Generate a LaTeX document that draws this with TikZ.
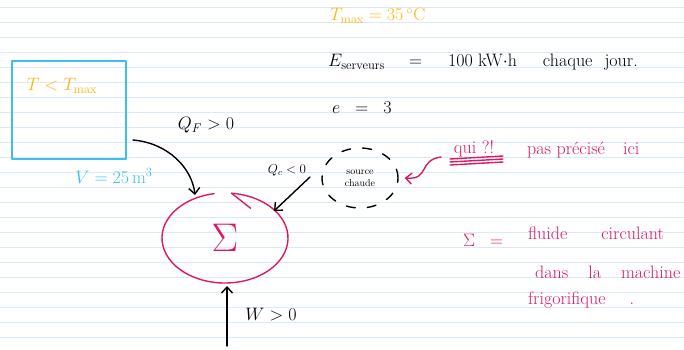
\RequirePackage{fix-cm}
\documentclass[tikz,border=0pt]{standalone}
\usetikzlibrary{arrows.meta,shapes.geometric}
\definecolor{rulecol}{RGB}{218,234,248}
\definecolor{skyb}{RGB}{62,190,240}
\definecolor{gold}{RGB}{250,182,20}
\definecolor{pinkink}{RGB}{220,25,100}
\tikzset{
  ink/.style={line width=1.4pt,line cap=round,line join=round},
  hand/.style={inner sep=0pt,font=\fontsize{18}{20}\selectfont},
  small hand/.style={inner sep=0pt,font=\fontsize{13}{15}\selectfont},
  barb/.style={-{Straight Barb[length=6pt,width=11pt]}},
}
\begin{document}
\begin{tikzpicture}[x=1pt,y=-1pt]
  \fill[white] (0,0) rectangle (684,349);
  \useasboundingbox (0,0) rectangle (684,349);
  \foreach \k in {0,...,22}
    \draw[rulecol,line width=1.5pt] (0,{7.5+15*\k}) -- (684,{7.5+15*\k});
  % the room
  \draw[skyb,ink] (12,61) rectangle (126,159);
  \node[hand,gold] (tin) at (62,86) {$T<T_{\max}$};
  \node[hand,skyb] (vol) at (114,176) {$V=25\,\mathrm{m}^3$};
  % the fluid
  \coordinate (sys) at (225,238);
  \draw[pinkink,ink] (sys) ++(100:63pt and 45pt)
    arc[start angle=100,end angle=444,x radius=63pt,y radius=45pt] coordinate (hook);
  \draw[pinkink,ink] (hook) -- ++(19,15);
  \node[pinkink,font=\fontsize{40}{40}\selectfont] (sigma) at (sys) {$\Sigma$};
  % exchanges
  \coordinate (qf0) at (133,140);
  \coordinate (qf1) at (195,195);
  \draw[ink,barb] (qf0) .. controls (168,143) and (192,168) .. (qf1);
  \node[hand] (qf) at (206,125) {$Q_F>0$};
  \coordinate (qc0) at (310,177);
  \coordinate (qc1) at (274,211);
  \draw[ink,barb] (qc0) -- (qc1);
  \node[small hand] (qc) at (287,170) {$Q_c<0$};
  \coordinate (w0) at (227,346);
  \coordinate (w1) at (227,286);
  \draw[ink,barb] (w0) -- (w1);
  \node[hand] (w) at (271,315) {$W>0$};
  \node[ellipse,draw,ink,dash pattern=on 9pt off 12pt,minimum width=76pt,minimum height=60pt,
    align=center,inner sep=0pt,font=\fontsize{10}{12}\selectfont] (src) at (360,178) {source\\chaude};
  % remarks
  \coordinate (q0) at (441,157);
  \draw[pinkink,ink,barb] (q0) .. controls (418,160) and (430,180) .. ([xshift=6pt]src.east);
  \node[hand,pinkink] (qui) at (474,149) {qui ?!};
  \draw[pinkink,ink] (450,159) -- (503,156) (450,162) -- (503,159) (450,165) -- (503,162);
  \node[hand,pinkink,anchor=west] (prec) at (527,150) {pas\ précisé\quad ici};
  \node[hand,gold,anchor=west] (tmax) at (330,16) {$T_{\max}=35\,^{\circ}$C};
  \node[hand,anchor=west] (eserv) at (328,62)
    {$E_{\mathrm{serveurs}}$\hspace{24pt}$=$\hspace{26pt}100 kW$\cdot$h\hspace{26pt}chaque\hspace{12pt}jour.};
  \node[hand,anchor=west] (eff) at (332,108) {$e\;\;=\;\;3$};
  \node[hand,pinkink] (def) at (483,240) {$\Sigma\;\;=$};
  \node[hand,pinkink,anchor=west] (def1) at (528,233) {fluide\hspace{34pt}circulant};
  \node[hand,pinkink,anchor=west] (def2) at (535,272) {dans\hspace{20pt}la\hspace{20pt}machine};
  \node[hand,pinkink,anchor=west] (def3) at (528,300) {frigorifique\hspace{24pt}.};
\end{tikzpicture}
\end{document}
